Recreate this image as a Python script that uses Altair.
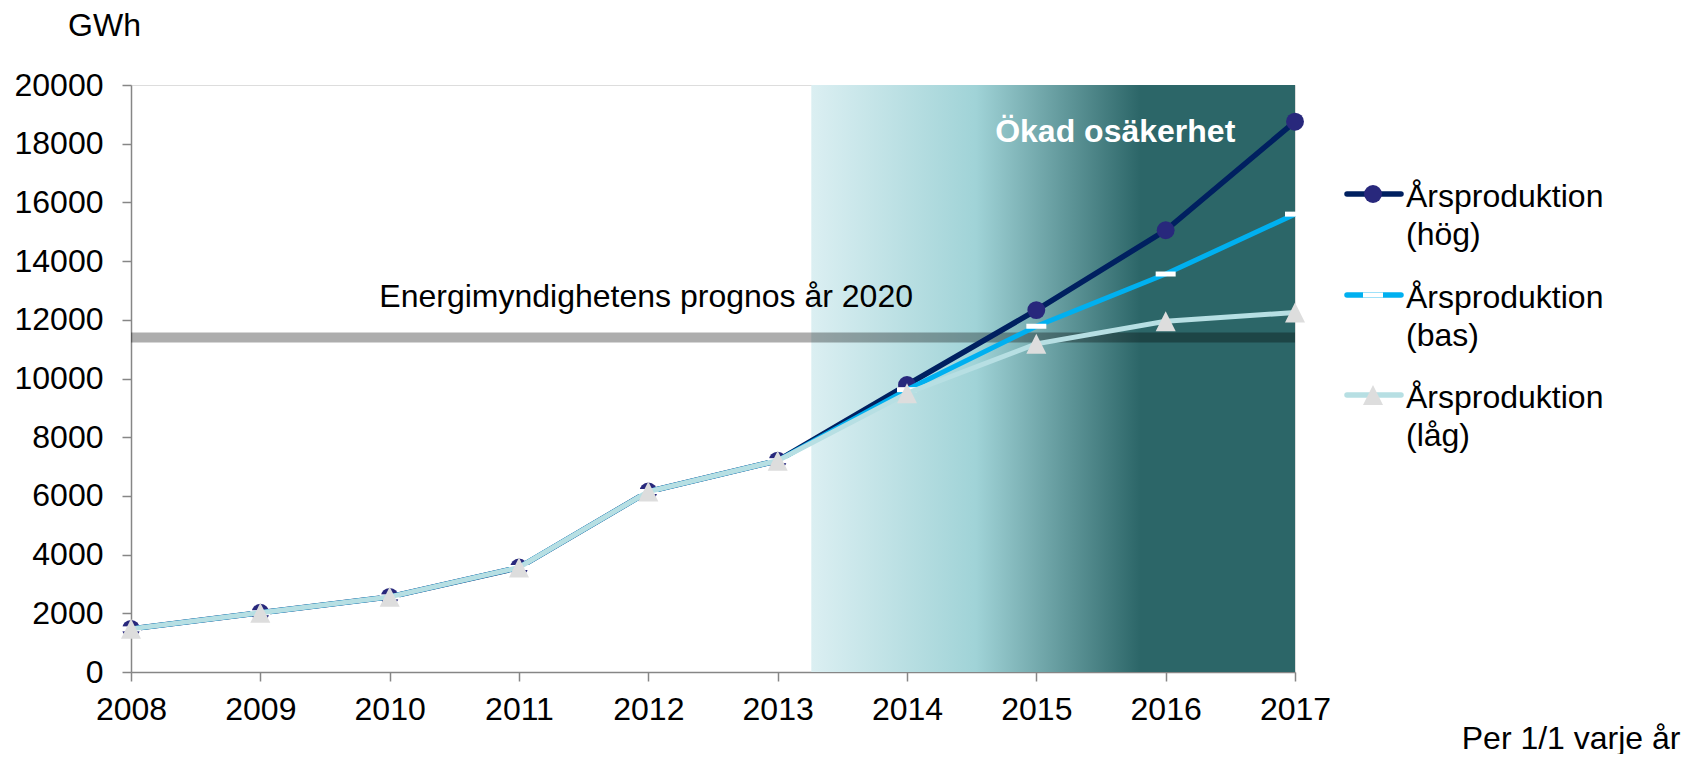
import altair as alt
import pandas as pd

# ---------------- data ----------------
years = [2008, 2009, 2010, 2011, 2012, 2013, 2014, 2015, 2016, 2017]
hog = [1470, 2020, 2560, 3560, 6150, 7200, 9780, 12330, 15050, 18750]
bas = [1470, 2020, 2560, 3560, 6150, 7200, 9620, 11780, 13560, 15600]
lag = [1470, 2020, 2560, 3560, 6150, 7200, 9500, 11180, 11950, 12250]

series_names = ["hög", "bas", "låg"]
legend_labels = ["Årsproduktion\n(hög)", "Årsproduktion\n(bas)", "Årsproduktion\n(låg)"]

shade_start = [2013.26]
shade_end = [2017]
shade_low = [0]
shade_high = [20000]

prognos_value = [11400]
prognos_label = ["Energimyndighetens prognos år 2020"]
prognos_label_x = [2009.92]
prognos_label_y = [12450]

uncert_label = ["Ökad osäkerhet"]
uncert_label_x = [2015.61]
uncert_label_y = [18070]

y_ticks = list(range(0, 20001, 2000))

FONT = "Liberation Sans"
FS = 32

# ---------------- tables ----------------
df_hog = pd.DataFrame({"year": years, "value": hog})
df_bas = pd.DataFrame({"year": years, "value": bas})
df_lag = pd.DataFrame({"year": years, "value": lag})
df_shade = pd.DataFrame({"x0": shade_start, "x1": shade_end, "y0": shade_low, "y1": shade_high})
df_prog = pd.DataFrame({"value": prognos_value})
df_prog_lbl = pd.DataFrame({"x": prognos_label_x, "y": prognos_label_y, "t": prognos_label})
df_unc_lbl = pd.DataFrame({"x": uncert_label_x, "y": uncert_label_y, "t": uncert_label})

xscale = alt.Scale(domain=[2008, 2017], nice=False, zero=False)
yscale = alt.Scale(domain=[0, 20000], nice=False)

xaxis = alt.Axis(
    values=years, format="d", title="Per 1/1 varje år",
    titleX=1549, titleY=76, titleAlign="right", titleBaseline="alphabetic",
    titleFontWeight="normal", titleFontSize=FS, titleFont=FONT, titleColor="black",
    labelFontSize=FS, labelFont=FONT, labelColor="black", labelPadding=13,
    labelFlush=False, tickSize=9, domainColor="#868686", tickColor="#868686",
    domainWidth=1.5, tickWidth=1.5, grid=False,
)
yaxis = alt.Axis(
    values=y_ticks, format="d", title="GWh",
    titleAngle=0, titleX=-27, titleY=-50, titleAlign="center", titleBaseline="alphabetic",
    titleFontWeight="normal", titleFontSize=FS, titleFont=FONT, titleColor="black",
    labelFontSize=FS, labelFont=FONT, labelColor="black", labelPadding=19,
    tickSize=9, domainColor="#868686", tickColor="#868686",
    domainWidth=1.5, tickWidth=1.5, grid=False,
)


def X(field):
    return alt.X(field, type="quantitative", scale=xscale, axis=xaxis)


def Y(field):
    return alt.Y(field, type="quantitative", scale=yscale, axis=yaxis)


gradient = alt.LinearGradient(
    gradient="linear",
    stops=[
        alt.GradientStop(color="#dbeff2", offset=0),
        alt.GradientStop(color="#a0d3d7", offset=0.34),
        alt.GradientStop(color="#2c6668", offset=0.68),
        alt.GradientStop(color="#2c6668", offset=1),
    ],
    x1=0, x2=1, y1=0, y2=0,
)

shade = alt.Chart(df_shade).mark_rect(fill=gradient, stroke=None).encode(
    x=X("x0"), x2="x1", y=Y("y1"), y2="y0"
)

band = alt.Chart(df_prog).mark_rule(color="black", opacity=0.32, strokeWidth=10).encode(
    y=Y("value")
)

DASH = "M-1,-0.25H1V0.25H-1Z"
TRI = "M0,-1L1,1H-1Z"

line_hog = alt.Chart(df_hog).mark_line(color="#002060", strokeWidth=5.5).encode(x=X("year"), y=Y("value"))
pt_hog = alt.Chart(df_hog).mark_point(shape="circle", filled=True, fill="#28287c", opacity=1,
                                       size=320, strokeWidth=0).encode(x=X("year"), y=Y("value"))
line_bas = alt.Chart(df_bas).mark_line(color="#00b0f0", strokeWidth=5).encode(x=X("year"), y=Y("value"))
pt_bas = alt.Chart(df_bas).mark_point(shape=DASH, filled=True, fill="white", opacity=1,
                                       size=400, strokeWidth=0).encode(x=X("year"), y=Y("value"))
line_lag = alt.Chart(df_lag).mark_line(color="#b7dfe3", strokeWidth=5).encode(x=X("year"), y=Y("value"))
pt_lag = alt.Chart(df_lag).mark_point(shape=TRI, filled=True, fill="#dddddd", opacity=1,
                                       size=400, strokeWidth=0).encode(x=X("year"), y=Y("value"))

prog_text = alt.Chart(df_prog_lbl).mark_text(
    align="left", baseline="alphabetic", font=FONT, fontSize=FS, color="black"
).encode(x=X("x"), y=Y("y"), text="t:N")

unc_text = alt.Chart(df_unc_lbl).mark_text(
    align="center", baseline="alphabetic", font=FONT, fontSize=32, fontWeight="bold", color="white"
).encode(x=X("x"), y=Y("y"), text="t:N")

# ---------------- manual legend (layout in pixels) ----------------
leg_line_colors = ["#002060", "#00b0f0", "#b7dfe3"]
leg_layers = []
row_y = [109, 210, 310]
for i, name in enumerate(series_names):
    yy = row_y[i]
    leg_layers.append(
        alt.Chart(df_prog).mark_rule(color=leg_line_colors[i], strokeWidth=5.5, strokeCap="round").encode(
            x=alt.value(1216), x2=alt.value(1270), y=alt.value(yy)
        )
    )
    if name == "hög":
        m = alt.Chart(df_prog).mark_point(shape="circle", filled=True, fill="#28287c", opacity=1,
                                          size=320, strokeWidth=0)
    elif name == "bas":
        m = alt.Chart(df_prog).mark_point(shape=DASH, filled=True, fill="white", opacity=1,
                                          size=400, strokeWidth=0)
    else:
        m = alt.Chart(df_prog).mark_point(shape=TRI, filled=True, fill="#dddddd", opacity=1,
                                          size=400, strokeWidth=0)
    leg_layers.append(m.encode(x=alt.value(1242), y=alt.value(yy)))
    leg_layers.append(
        alt.Chart(df_prog).mark_text(
            align="left", baseline="alphabetic", font=FONT, fontSize=FS, color="black",
            lineBreak="\n", lineHeight=38,
        ).encode(x=alt.value(1275), y=alt.value(yy + 13), text=alt.value(legend_labels[i]))
    )

chart = alt.layer(
    shade, band, line_hog, pt_hog, line_bas, pt_bas, line_lag, pt_lag, prog_text, unc_text, *leg_layers
).properties(
    width=1164, height=587,
    autosize=alt.AutoSizeParams(type="none"),
    padding={"left": 123, "top": 77, "right": 386, "bottom": 82},
).configure_view(stroke=None).configure(font=FONT)

chart.save("out.html", embed_options={"renderer": "svg", "actions": False})
